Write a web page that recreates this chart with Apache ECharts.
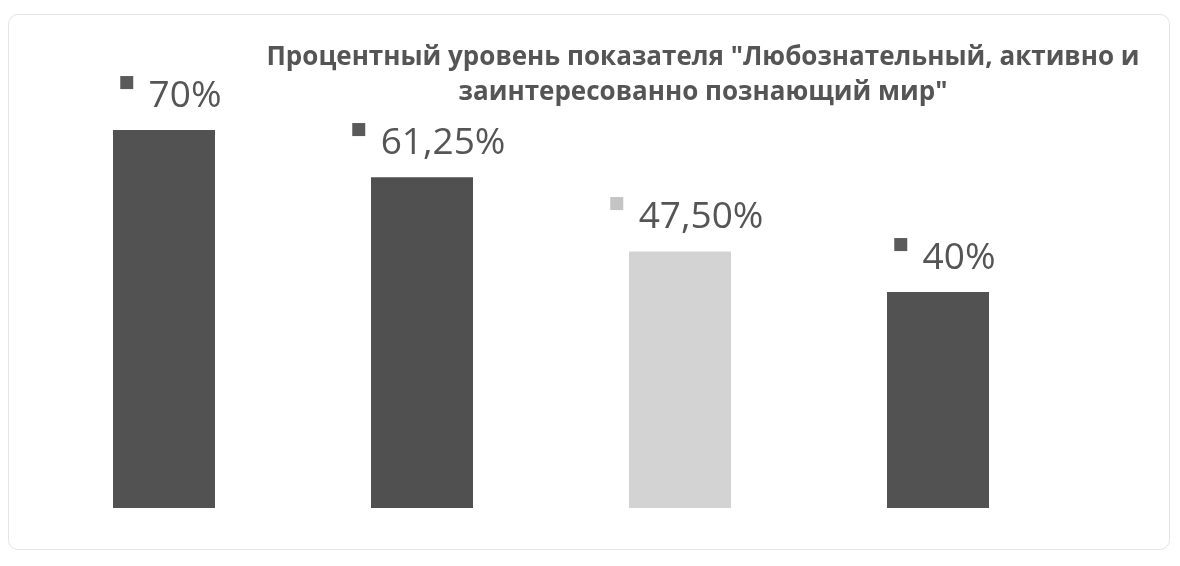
<!DOCTYPE html>
<html><head><meta charset="utf-8">
<script src="https://cdn.jsdelivr.net/npm/echarts@6/dist/echarts.min.js"></script>
<style>
html,body{margin:0;padding:0;background:#fff;}
#frame{position:absolute;left:8px;top:14px;width:1160px;height:534px;border:1px solid #e4e4e4;border-radius:10px;}
#c{position:absolute;left:0;top:0;width:1180px;height:566px;}
</style></head>
<body>
<div id="frame"></div>
<div id="c"></div>
<script>
var categories = ['1', '2', '3', '4'];
var values = [70, 61.25, 47.5, 40];
var valueLabels = ['70%', '61,25%', '47,50%', '40%'];
var barColors = ['#525252', '#505050', '#d3d3d3', '#525252'];
var markerColors = ['#5a5a5a', '#5a5a5a', '#c4c4c4', '#5a5a5a'];
var titleText = 'Процентный уровень показателя "Любознательный, активно и\nзаинтересованно познающий мир"';

var chart = echarts.init(document.getElementById('c'));
var data = values.map(function (v, i) {
  return {
    value: v,
    itemStyle: { color: barColors[i] },
    label: {
      rich: {
        sq: { fontFamily: 'DejaVu Sans', fontSize: 17, color: markerColors[i], verticalAlign: 'top', lineHeight: 33 },
        gap: { width: 14 },
        t: { fontFamily: 'Open Sans', fontSize: 37, color: '#555555', lineHeight: 44 }
      }
    }
  };
});
chart.setOption({
  animation: false,
  backgroundColor: 'transparent',
  title: {
    text: titleText,
    left: 698,
    top: 35,
    textAlign: 'center',
    textStyle: { fontFamily: 'Open Sans', fontWeight: 'bold', fontSize: 26, color: '#555555', lineHeight: 35 }
  },
  grid: { left: 35, right: 113, top: 76, bottom: 58 },
  xAxis: { type: 'category', data: categories, show: false },
  yAxis: { type: 'value', min: 0, max: 80, show: false },
  series: [{
    type: 'bar',
    barWidth: 102,
    data: data,
    label: {
      show: true,
      position: 'top',
      distance: 12,
      offset: [6, 0],
      formatter: function (p) { return '{sq|■}{gap|}{t|' + valueLabels[p.dataIndex] + '}'; }
    }
  }]
});
</script>
</body></html>
